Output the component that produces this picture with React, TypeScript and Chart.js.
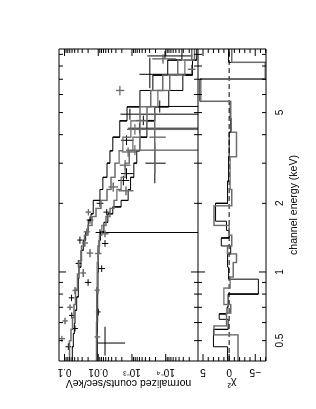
import React, { useEffect, useRef } from 'react';
import { Chart, registerables } from 'chart.js';
Chart.register(...registerables);

// ---------- axis ranges & ticks ----------
const energyMin = 0.407;
const energyMax = 9.5;
const countsMin = 1.1e-5;
const countsMax = 0.146;
const chiMin = -7.06;
const chiMax = 5.96;

const energyTickValues = [0.5, 1, 2, 5];
const energyTickLabels = ['0.5', '1', '2', '5'];
const countsTickValues = [1e-4, 1e-3, 1e-2, 1e-1];
const countsTickLabels = ['10\u207B\u2074', '10\u207B\u00B3', '0.01', '0.1'];
const chiTickValues = [-5, 0, 5];
const chiTickLabels = ['\u22125', '0', '5'];

const energyMajorMarks = [1];
const energyMinorMarks = [0.5, 0.6, 0.7, 0.8, 0.9, 2, 3, 4, 5, 6, 7, 8, 9];

// ---------- model step lines (bin edges in keV, values in counts/s/keV) ----------
const modelAEdges = [0.407, 0.47, 0.537, 0.594, 0.679, 0.777, 0.935, 1.05, 1.245, 1.377, 1.5, 1.685, 1.8, 2.06, 2.3, 2.6, 3.0, 3.4, 3.9, 4.6, 5.3, 6.25, 7.3, 8.5, 9.5];
const modelAValues = [0.0588, 0.0549, 0.0513, 0.0489, 0.0436, 0.039, 0.0373, 0.0325, 0.0278, 0.0236, 0.0198, 0.0164, 0.0141, 0.0089, 0.0073, 0.0055, 0.0045, 0.0037, 0.0023, 0.0014, 5.8e-4, 2.4e-4, 8.7e-5, 3.3e-5];

const modelBEdges = [0.407, 0.5, 0.56, 0.63, 0.72, 0.84, 0.98, 1.12, 1.3, 1.45, 1.6, 1.75, 1.9, 2.06, 2.3, 2.6, 3.0, 3.4, 3.9, 4.6, 5.3, 6.25, 7.3, 8.5, 9.5];
const modelBValues = [0.0711, 0.0642, 0.058, 0.0524, 0.0473, 0.0413, 0.0373, 0.0314, 0.0256, 0.0202, 0.0154, 0.0117, 0.0083, 0.0055, 0.0042, 0.0032, 0.0024, 0.00186, 0.00108, 5.8e-4, 2.76e-4, 1.22e-4, 4.4e-5, 1.69e-5];

const modelCEdges = [0.407, 0.6, 0.8, 1.0, 1.2, 1.38, 1.5, 1.65, 1.8, 1.93, 2.06, 2.3, 2.6, 3.0, 3.4, 3.9, 4.6, 5.3, 6.25, 7.3, 8.5, 9.5];
const modelCValues = [0.0106, 0.0104, 0.0102, 0.01, 0.0095, 0.0086, 0.0068, 0.0052, 0.0037, 0.0021, 0.0013, 0.0011, 8.8e-4, 7.2e-4, 5.8e-4, 3.6e-4, 2.1e-4, 8.1e-5, 3.1e-5, 1.6e-5, 1.2e-5];

const modelDEdges = [0.407, 0.6, 0.85, 1.1, 1.3, 1.45, 1.6, 1.75, 1.9, 2.06, 2.3, 2.6, 3.0, 3.4, 3.9, 4.6, 5.3, 6.25, 7.3, 8.5, 9.5];
const modelDValues = [0.0113, 0.0111, 0.0108, 0.0102, 0.0092, 0.0078, 0.0059, 0.0045, 0.0034, 0.0028, 0.0021, 0.0016, 0.0012, 9.4e-4, 5.8e-4, 3.6e-4, 1.7e-4, 7.6e-5, 2.7e-5, 1.4e-5];

// ---------- data crosses ----------
const dataAEnergy = [0.47, 0.565, 0.645, 0.77, 0.9, 1.09, 1.38, 1.69, 2.0, 2.7, 3.78, 4.27, 4.62, 7.36];
const dataAEnergyLo = [0.455, 0.548, 0.625, 0.745, 0.87, 1.05, 1.33, 1.63, 1.93, 2.55, 3.6, 4.05, 4.4, 6.4];
const dataAEnergyHi = [0.487, 0.583, 0.665, 0.795, 0.93, 1.13, 1.43, 1.75, 2.07, 2.85, 3.97, 4.5, 4.85, 8.7];
const dataACounts = [0.077, 0.049, 0.061, 0.062, 0.02, 0.039, 0.035, 0.0176, 0.0089, 0.00145, 0.00145, 6e-4, 4.6e-4, 2.95e-4];
const dataACountsLo = [0.063, 0.04, 0.05, 0.051, 0.016, 0.032, 0.029, 0.014, 0.007, 9e-4, 9e-4, 1e-7, 2.2e-4, 1.6e-5];
const dataACountsHi = [0.094, 0.06, 0.074, 0.075, 0.025, 0.047, 0.042, 0.022, 0.0112, 0.0021, 0.0021, 0.0013, 7.5e-4, 6e-4];

const dataBEnergy = [0.51, 0.61, 0.7, 0.83, 0.99, 1.21, 1.34, 1.5, 1.83, 2.36, 2.94, 3.36, 6.25, 8.6];
const dataBEnergyLo = [0.495, 0.59, 0.68, 0.8, 0.95, 1.16, 1.29, 1.45, 1.77, 2.25, 2.8, 3.2, 5.95, 8.2];
const dataBEnergyHi = [0.525, 0.63, 0.72, 0.86, 1.03, 1.26, 1.39, 1.55, 1.89, 2.47, 3.1, 3.52, 6.55, 9.0];
const dataBCounts = [0.12, 0.097, 0.069, 0.049, 0.028, 0.0176, 0.025, 0.022, 0.0197, 0.0036, 0.0016, 0.0013, 0.00228, 1.2e-4];
const dataBCountsLo = [0.097, 0.08, 0.057, 0.04, 0.023, 0.014, 0.02, 0.018, 0.016, 0.0026, 0.0011, 7.5e-4, 0.0017, 5e-5];
const dataBCountsHi = [0.146, 0.115, 0.083, 0.058, 0.034, 0.022, 0.031, 0.027, 0.024, 0.005, 0.0023, 0.002, 0.003, 2.5e-4];

const dataCEnergy = [0.488, 0.668, 1.035, 1.333, 1.49, 1.83, 2.52, 3.0, 4.92, 5.32, 8.86];
const dataCEnergyLo = [0.43, 0.645, 1.0, 1.29, 1.44, 1.77, 2.4, 2.45, 4.65, 5.0, 8.6];
const dataCEnergyHi = [0.575, 0.69, 1.07, 1.38, 1.54, 1.89, 2.64, 3.7, 5.2, 5.65, 9.3];
const dataCCounts = [0.0063, 0.01, 0.0079, 0.0063, 0.0089, 0.0056, 0.0018, 2.1e-4, 1.15e-3, 1.5e-4, 1.05e-4];
const dataCCountsLo = [0.0016, 0.0085, 0.0063, 0.005, 1e-7, 0.0044, 0.0012, 1e-4, 1e-7, 1e-7, 1.6e-5];
const dataCCountsHi = [0.0102, 0.0118, 0.0098, 0.0078, 0.012, 0.007, 0.0026, 4e-4, 2.2e-3, 3e-4, 3.5e-4];

const dataDEnergy = [0.519, 0.832, 1.205, 1.47, 2.27, 3.42, 3.9, 4.22, 7.74];
const dataDEnergyLo = [0.5, 0.8, 1.16, 1.42, 2.17, 3.25, 2.7, 4.0, 7.4];
const dataDEnergyHi = [0.54, 0.86, 1.25, 1.52, 2.37, 3.6, 5.0, 4.45, 8.1];
const dataDCounts = [0.011, 0.011, 0.01, 0.0063, 0.0015, 8.2e-4, 2.1e-4, 8.2e-4, 1.7e-5];
const dataDCountsLo = [0.0088, 0.009, 0.008, 0.005, 9e-4, 1e-7, 1e-4, 1e-7, 1.3e-5];
const dataDCountsHi = [0.013, 0.013, 0.0125, 0.008, 0.0025, 1.5e-3, 3e-4, 1.4e-3, 2.2e-5];

// ---------- chi residual steps ----------
const chiAEdges = [0.407, 0.47, 0.56, 0.62, 0.655, 0.7, 0.8, 0.93, 1.05, 1.2, 1.3, 1.41, 1.52, 1.67, 2.0, 2.5, 3.2, 4.1, 4.7, 5.6, 7.0, 8.3, 9.5];
const chiAValues = [0.3, 3.0, 0.2, 1.9, 0.4, 0.2, -5.6, 0.1, 0.3, -0.3, 1.5, 0.0, 0.5, 2.6, 0.3, 0.1, 0.0, -0.3, -0.2, 5.6, -7.5, 0.1];
const chiBEdges = [0.407, 0.53, 0.58, 0.66, 0.72, 0.85, 0.95, 1.1, 1.2, 1.3, 1.45, 1.6, 1.95, 2.3, 3.2, 4.1, 4.7, 5.6, 7.0, 8.3, 9.5];
const chiBValues = [-1.7, 2.9, 0.5, -0.3, 1.0, -0.2, -0.8, -1.4, 0.3, -0.5, 0.0, 2.9, -0.5, -0.2, -1.4, -0.4, -0.3, 5.4, -6.9, -0.5];

// ---------- layout ----------
const W = 409;
const H = 316;
const PLOT_LEFT = 48;
const PLOT_RIGHT_PAD = 49;
const PLOT_TOP = 59;
const X_AXIS_H = 50;
const COUNTS_H = 139;
const CHI_H = 68;
const BLACK = '#000000';
const GRAY = '#6c6c6c';
const FONT = 'Liberation Sans, Arial, Helvetica, sans-serif';

function stepPoints(edges: number[], vals: number[]) {
  const pts: { x: number; y: number | null }[] = [];
  for (let i = 0; i < vals.length; i++) {
    pts.push({ x: edges[i], y: vals[i] });
    pts.push({ x: edges[i + 1], y: vals[i] });
  }
  return pts;
}

function crossPoints(e: number[], elo: number[], ehi: number[], c: number[], clo: number[], chi: number[]) {
  const pts: { x: number; y: number | null }[] = [];
  for (let i = 0; i < e.length; i++) {
    pts.push({ x: elo[i], y: c[i] }, { x: ehi[i], y: c[i] }, { x: e[i], y: null });
    pts.push({ x: e[i], y: clo[i] }, { x: e[i], y: chi[i] }, { x: e[i], y: null });
  }
  return pts;
}

function lineDs(data: any[], color: string, width: number, axis: string, dash: number[] = []) {
  return {
    data,
    borderColor: color,
    borderWidth: width,
    borderDash: dash,
    pointRadius: 0,
    pointHoverRadius: 0,
    fill: false,
    tension: 0,
    spanGaps: false,
    yAxisID: axis,
    clip: 0,
  };
}

const framePlugin = {
  id: 'xspecFrame',
  afterDatasetsDraw(chart: any) {
    const ctx = chart.ctx;
    const xs = chart.scales.x;
    const yc = chart.scales.yc;
    const yr = chart.scales.yr;
    const L = chart.chartArea.left;
    const R = chart.chartArea.right;
    const T = yc.top;
    const M = yc.bottom;
    const B = yr.bottom;
    ctx.save();
    ctx.strokeStyle = BLACK;
    ctx.lineWidth = 1;
    ctx.beginPath();
    ctx.rect(L, T, R - L, B - T);
    ctx.moveTo(L, M);
    ctx.lineTo(R, M);
    const vtick = (v: number, len: number) => {
      const p = xs.getPixelForValue(v);
      ctx.moveTo(p, T); ctx.lineTo(p, T + len);
      ctx.moveTo(p, M); ctx.lineTo(p, M - len);
      ctx.moveTo(p, M); ctx.lineTo(p, M + len);
      ctx.moveTo(p, B); ctx.lineTo(p, B - len);
    };
    energyMajorMarks.forEach((v) => vtick(v, 7));
    energyMinorMarks.forEach((v) => vtick(v, 4));
    const htick = (scale: any, v: number, len: number) => {
      const p = scale.getPixelForValue(v);
      if (p < scale.top - 0.5 || p > scale.bottom + 0.5) return;
      ctx.moveTo(L, p); ctx.lineTo(L + len, p);
      ctx.moveTo(R, p); ctx.lineTo(R - len, p);
    };
    for (let d = -5; d <= -1; d++) {
      const base = Math.pow(10, d);
      htick(yc, base, 7);
      for (let k = 2; k <= 9; k++) htick(yc, k * base, 4);
    }
    for (let v = -7; v <= 5; v++) htick(yr, v, v % 5 === 0 ? 7 : 4);
    ctx.stroke();
    ctx.restore();
  },
};

export default function App() {
  const ref = useRef<HTMLCanvasElement | null>(null);
  useEffect(() => {
    if (!ref.current) return;
    const tickFont = { family: FONT, size: 10 };
    const titleFont = { family: FONT, size: 10.5 };
    const chart = new Chart(ref.current, {
      type: 'line',
      data: {
        datasets: [
          lineDs(stepPoints(modelBEdges, modelBValues), GRAY, 1.4, 'yc'),
          lineDs(stepPoints(modelDEdges, modelDValues), GRAY, 1.4, 'yc'),
          lineDs(crossPoints(dataBEnergy, dataBEnergyLo, dataBEnergyHi, dataBCounts, dataBCountsLo, dataBCountsHi), GRAY, 1.4, 'yc'),
          lineDs(crossPoints(dataDEnergy, dataDEnergyLo, dataDEnergyHi, dataDCounts, dataDCountsLo, dataDCountsHi), GRAY, 1.4, 'yc'),
          lineDs(stepPoints(modelAEdges, modelAValues), BLACK, 1, 'yc'),
          lineDs(stepPoints(modelCEdges, modelCValues), BLACK, 1, 'yc'),
          lineDs(crossPoints(dataAEnergy, dataAEnergyLo, dataAEnergyHi, dataACounts, dataACountsLo, dataACountsHi), BLACK, 1, 'yc'),
          lineDs(crossPoints(dataCEnergy, dataCEnergyLo, dataCEnergyHi, dataCCounts, dataCCountsLo, dataCCountsHi), BLACK, 1, 'yc'),
          lineDs(stepPoints(chiBEdges, chiBValues), GRAY, 1.4, 'yr'),
          lineDs(stepPoints(chiAEdges, chiAValues), BLACK, 1, 'yr'),
          lineDs([{ x: energyMin, y: 0 }, { x: energyMax, y: 0 }], BLACK, 1, 'yr', [5, 3]),
        ],
      },
      options: {
        responsive: false,
        animation: false,
        devicePixelRatio: 1,
        layout: { padding: { left: 0, top: PLOT_TOP, right: PLOT_RIGHT_PAD, bottom: 0 } },
        plugins: { legend: { display: false }, tooltip: { enabled: false } },
        events: [],
        scales: {
          x: {
            type: 'logarithmic',
            position: 'bottom',
            min: energyMin,
            max: energyMax,
            grid: { display: false, drawTicks: false },
            border: { display: false },
            afterBuildTicks: (s: any) => { s.ticks = energyTickValues.map((v) => ({ value: v })); },
            afterFit: (s: any) => { s.height = X_AXIS_H; },
            ticks: {
              autoSkip: false, maxRotation: 0, minRotation: 0, padding: 8.5, color: BLACK, font: tickFont,
              callback: (_v: any, i: number) => energyTickLabels[i],
            },
            title: { display: true, text: 'channel energy (keV)', color: BLACK, font: titleFont, padding: { top: 0, bottom: 15.2 } },
          },
          yr: {
            type: 'linear',
            position: 'left',
            stack: 'panels',
            stackWeight: CHI_H,
            weight: 0,
            min: chiMin,
            max: chiMax,
            grid: { display: false, drawTicks: false },
            border: { display: false },
            afterBuildTicks: (s: any) => { s.ticks = chiTickValues.map((v) => ({ value: v })); },
            afterFit: (s: any) => { s.width = PLOT_LEFT; },
            ticks: {
              autoSkip: false, minRotation: 90, maxRotation: 90, crossAlign: 'center', padding: 4.8, color: BLACK, font: tickFont,
              callback: (_v: any, i: number) => chiTickLabels[i],
            },
            title: { display: true, text: '\u03C7\u00B2', color: BLACK, font: titleFont, padding: { top: 19.7, bottom: 0 } },
          },
          yc: {
            type: 'logarithmic',
            position: 'left',
            stack: 'panels',
            stackWeight: COUNTS_H,
            weight: 1,
            min: countsMin,
            max: countsMax,
            grid: { display: false, drawTicks: false },
            border: { display: false },
            afterBuildTicks: (s: any) => { s.ticks = countsTickValues.map((v) => ({ value: v })); },
            afterFit: (s: any) => { s.width = PLOT_LEFT; },
            ticks: {
              autoSkip: false, minRotation: 90, maxRotation: 90, crossAlign: 'center', padding: 1, color: BLACK, font: tickFont,
              callback: (_v: any, i: number) => countsTickLabels[i],
            },
            title: { display: true, text: 'normalized counts/sec/keV', color: BLACK, font: titleFont, padding: { top: 19.7, bottom: 0 } },
          },
        },
      } as any,
      plugins: [framePlugin],
    });
    return () => chart.destroy();
  }, []);

  return (
    <div style={{ position: 'fixed', left: 0, top: 0, width: 316, height: 409, overflow: 'hidden', background: '#ffffff' }}>
      <div
        style={{
          position: 'absolute', left: 0, top: 0, width: W, height: H,
          transformOrigin: '0 0', transform: `translateY(${W}px) rotate(-90deg)`,
        }}
      >
        <canvas ref={ref} width={W} height={H} style={{ display: 'block', width: W, height: H }} />
      </div>
    </div>
  );
}
